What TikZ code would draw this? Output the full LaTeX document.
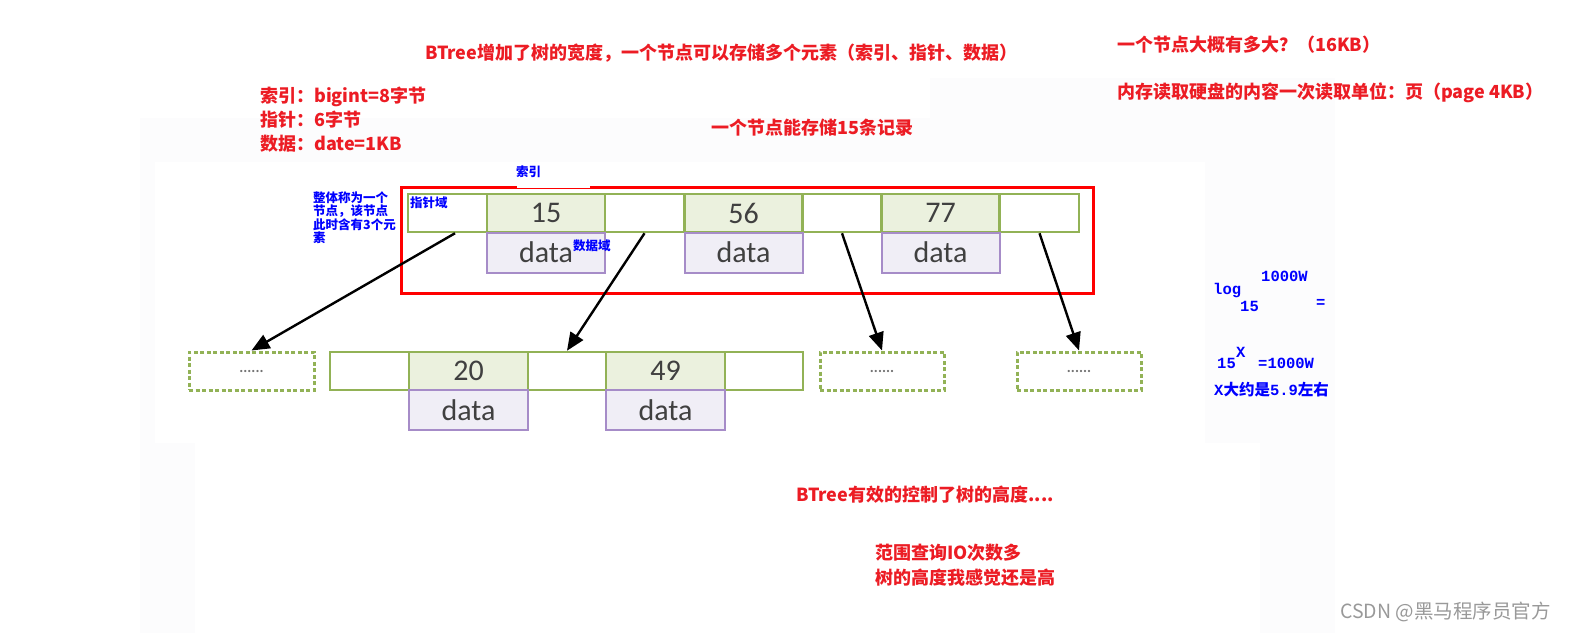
\documentclass[tikz,border=0pt]{standalone}
\usepackage{fontspec}
\setmainfont{Noto Sans CJK SC}
\newfontfamily\numfont{Carlito}
\newfontfamily\monofont{Liberation Mono}
\newfontfamily\cjkfont{Noto Sans CJK SC}
\usetikzlibrary{arrows.meta}
\definecolor{redtxt}{RGB}{236,28,36}
\definecolor{bluetxt}{RGB}{0,0,255}
\definecolor{greenb}{RGB}{146,178,86}
\definecolor{greenf}{RGB}{235,241,222}
\definecolor{purpb}{RGB}{166,140,200}
\definecolor{purpf}{RGB}{240,238,246}
\definecolor{celltxt}{RGB}{64,64,64}
\definecolor{bgpanel}{RGB}{252,252,253}
\tikzset{
  x=1pt,y=-1pt,
  redlbl/.style={text=redtxt,font=\bfseries\fontsize{18}{20}\selectfont,anchor=west,inner sep=0},
  bluesm/.style={text=bluetxt,font=\bfseries\fontsize{12.5}{11}\selectfont,inner sep=0},
  mathlbl/.style={text=bluetxt,font=\monofont\bfseries\fontsize{15.5}{16}\selectfont,anchor=west,inner sep=0},
  ptrcell/.style={draw=greenb,line width=2.5pt,fill=white,minimum height=38pt,inner sep=0},
  keycell/.style={draw=greenb,line width=2.5pt,fill=greenf,minimum width=118pt,minimum height=38pt,inner sep=0,text=celltxt,font=\numfont\fontsize{30}{30}\selectfont},
  datacell/.style={draw=purpb,line width=2pt,fill=purpf,minimum width=118pt,minimum height=40pt,inner sep=0,text=celltxt,font=\numfont\fontsize{30}{30}\selectfont},
  dashcell/.style={draw=greenb,line width=3pt,dash pattern=on 4pt off 2.5pt,fill=white,minimum width=124pt,minimum height=38pt,inner sep=0,text=gray!90!black,font=\numfont\bfseries\fontsize{15}{15}\selectfont},
  arr/.style={line width=2.4pt,-{Triangle[length=18pt,width=15pt]}}
}
\begin{document}
\begin{tikzpicture}
\useasboundingbox (0,0) rectangle (1571,633);
\fill[white] (0,0) rectangle (1571,633);
% faint background panels
\fill[bgpanel] (140,118) rectangle (1335,633);
\fill[bgpanel] (930,78) rectangle (1335,118);
\fill[white] (155,162) rectangle (1205,443);
\fill[white] (195,443) rectangle (1260,633);

% red texts
\node[redlbl] (t1) at (425,53) {BTree增加了树的宽度，一个节点可以存储多个元素（索引、指针、数据）};
\node[redlbl] (t2) at (1117,45) {一个节点大概有多大？（16KB）};
\node[redlbl] (t3) at (1117,93) {内存读取硬盘的内容一次读取单位：页（page 4KB）};
\node[redlbl] (t4) at (260,97) {索引：bigint=8字节};
\node[redlbl] (t5) at (260,120) {指针：6字节};
\node[redlbl] (t6) at (260,144) {数据：date=1KB};
\node[redlbl] (t7) at (711,128) {一个节点能存储15条记录};
\node[redlbl] (t8) at (796,495) {BTree有效的控制了树的高度....};
\node[redlbl] (t9) at (875,553) {范围查询IO次数多};
\node[redlbl] (t10) at (875,578) {树的高度我感觉还是高};

% red frame
\draw[red,line width=3pt] (401,187) rectangle (1093,293);
\fill[white] (517,182) rectangle (590,187.5);
\node[bluesm,anchor=west] (idx) at (516,172) {索引};

% top node
\node[ptrcell,minimum width=79pt] (p0) at (447.5,213) {};
\node[keycell] (k1) at (546,213) {15};
\node[ptrcell,minimum width=79pt] (p1) at (644.5,213) {};
\node[keycell] (k2) at (743.5,213) {56};
\node[ptrcell,minimum width=78pt] (p2) at (842,213) {};
\node[keycell] (k3) at (940.5,213) {77};
\node[ptrcell,minimum width=79pt] (p3) at (1039.5,213) {};
\node[datacell] (d1) at (546,252.5) {data};
\node[datacell] (d2) at (743.5,252.5) {data};
\node[datacell] (d3) at (940.5,252.5) {data};

% bottom node
\node[ptrcell,minimum width=79pt] (q0) at (369.5,371) {};
\node[keycell,minimum width=119pt] (m1) at (468.5,371) {20};
\node[ptrcell,minimum width=78pt] (q1) at (567,371) {};
\node[keycell,minimum width=119pt] (m2) at (665.5,371) {49};
\node[ptrcell,minimum width=78pt] (q2) at (764,371) {};
\node[datacell,minimum width=119pt] (e1) at (468.5,410) {data};
\node[datacell,minimum width=119pt] (e2) at (665.5,410) {data};

% dashed nodes
\node[dashcell,minimum width=125pt] (x1) at (251.5,371) {......};
\node[dashcell] (x2) at (882,371) {......};
\node[dashcell] (x3) at (1079,371) {......};

% arrows
\coordinate (s0) at ([xshift=7.5pt]p0.south);
\draw[arr] (s0) -- (x1.north);
\draw[arr] (p1.south) -- (q1.north);
\draw[arr] (p2.south) -- (x2.north);
\draw[arr] (p3.south) -- (x3.north);

% blue annotations
\node[bluesm,anchor=north west,align=left] (whole) at (313,192) {整体称为一个\\节点，该节点\\此时含有3个元\\素};
\node[bluesm,anchor=west] (ptrd) at (410,203) {指针域};
\node[bluesm,anchor=west] (datad) at (573,246) {数据域};

% math on the right
\node[mathlbl] (lg) at (1213,291) {log};
\node[mathlbl] (lgb) at (1240,306) {15};
\node[mathlbl] (lgs) at (1261,276) {1000W};
\node[mathlbl] (eq) at (1316,303) {=};
\node[mathlbl] (b15) at (1217,363) {15};
\node[mathlbl] (bx) at (1236,352) {X};
\node[mathlbl] (bres) at (1258,363) {=1000W};
\node[mathlbl] (xr) at (1214,390) {X{\cjkfont\bfseries 大约是}5.9{\cjkfont\bfseries 左右}};

% watermark
\node[anchor=west,inner sep=0,text=gray!80,font=\fontsize{19.5}{20}\selectfont] (wm) at (1340,612) {CSDN @黑马程序员官方};
\end{tikzpicture}
\end{document}
